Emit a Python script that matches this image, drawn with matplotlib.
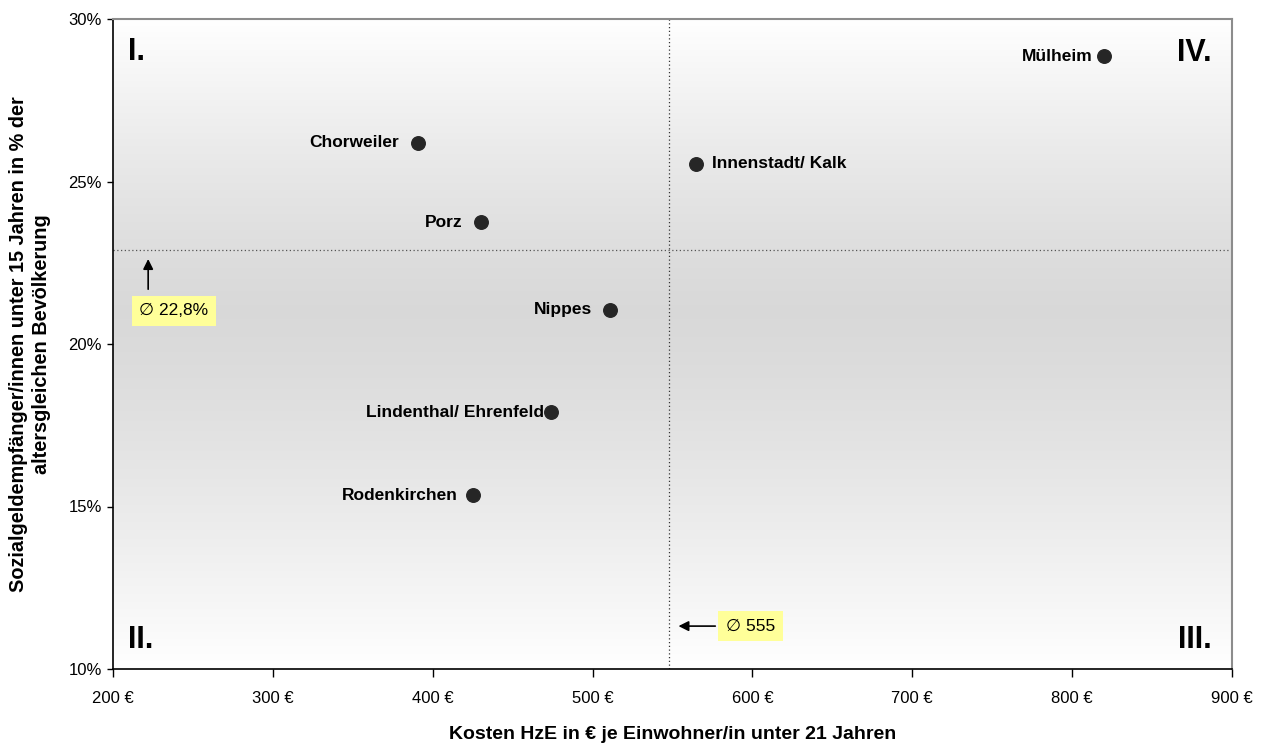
import matplotlib
matplotlib.use("Agg")
import matplotlib.pyplot as plt
import numpy as np
from matplotlib.ticker import FuncFormatter

plt.rcParams['font.family'] = ['Liberation Sans', 'DejaVu Sans']

districts = ["Mülheim", "Chorweiler", "Innenstadt/ Kalk", "Porz", "Nippes",
             "Lindenthal/ Ehrenfeld", "Rodenkirchen"]
kosten = [820, 391, 565, 430, 511, 474, 425]
sozialgeld = [28.85, 26.2, 25.55, 23.75, 21.05, 17.9, 15.35]

mean_x = 548
mean_y = 22.9
mean_x_label = "∅ 555"
mean_y_label = "∅ 22,8%"

xticks = [200, 300, 400, 500, 600, 700, 800, 900]
yticks = [10, 15, 20, 25, 30]

# label placement (offset in points, negative = left of point)
label_offsets = {"Mülheim": -8, "Chorweiler": -14, "Innenstadt/ Kalk": 11,
                 "Porz": -13, "Nippes": -13, "Lindenthal/ Ehrenfeld": -5,
                 "Rodenkirchen": -11}

fig = plt.figure(figsize=(12.67, 7.45), dpi=100)
ax = fig.add_axes([113/1267, 1 - 669/745, (1232-113)/1267, (669-19)/745])
ax.set_xlim(200, 900)
ax.set_ylim(10, 30)

# background gradient: white top, gray middle, white bottom
ys = np.linspace(0, 1, 400)
def shade(t):
    mid = 0.55
    d = np.where(t > mid, (t - mid) / (1 - mid), (mid - t) / mid)
    return 0.85 + 0.15 * d ** 1.3
g = shade(ys)[:, None]
img = np.dstack([g, g, g])
ax.imshow(img, extent=[200, 900, 10, 30], origin='lower', aspect='auto', zorder=0)

ax.axvline(mean_x, color='#333333', linestyle=(0, (1, 2)), linewidth=0.9, zorder=1)
ax.axhline(mean_y, color='#555555', linestyle=(0, (1, 2)), linewidth=0.9, zorder=1)

ax.scatter(kosten, sozialgeld, s=95, color='#262626', zorder=3)
for name, x, y in zip(districts, kosten, sozialgeld):
    off = label_offsets[name]
    ax.annotate(name, (x, y), xytext=(off, 0), textcoords='offset points',
                ha='right' if off < 0 else 'left', va='center',
                fontsize=12.5, fontweight='bold')

# quadrant labels
qkw = dict(fontsize=22, fontweight='bold', transform=ax.transAxes)
ax.text(0.013, 0.95, "I.", ha='left', va='center', **qkw)
ax.text(0.013, 0.045, "II.", ha='left', va='center', **qkw)
ax.text(0.982, 0.045, "III.", ha='right', va='center', **qkw)
ax.text(0.982, 0.948, "IV.", ha='right', va='center', **qkw)

# mean annotations
box = dict(boxstyle='square,pad=0.45', fc='#ffff99', ec='none')
ax.annotate("", xy=(222, mean_y - 0.2), xytext=(222, 21.6),
            arrowprops=dict(arrowstyle='-|>', color='black', lw=1.2, mutation_scale=15))
ax.text(216.5, 21.02, mean_y_label, ha='left', va='center', fontsize=12.5, bbox=box, zorder=4)
ax.annotate("", xy=(mean_x + 4, 11.32), xytext=(578.5, 11.32),
            arrowprops=dict(arrowstyle='-|>', color='black', lw=1.2, mutation_scale=15))
ax.text(583.5, 11.32, mean_x_label, ha='left', va='center', fontsize=12.5, bbox=box, zorder=4)

ax.set_xticks(xticks)
ax.set_yticks(yticks)
ax.xaxis.set_major_formatter(FuncFormatter(lambda v, p: f"{int(v)} €"))
ax.yaxis.set_major_formatter(FuncFormatter(lambda v, p: f"{int(v)}%"))
ax.tick_params(axis='both', direction='out', width=1, labelsize=12, color='black')
ax.tick_params(axis='x', length=6, pad=10)
ax.tick_params(axis='y', length=4, pad=4)

for s in ['left', 'bottom']:
    ax.spines[s].set_color('black')
    ax.spines[s].set_linewidth(1.2)
for s in ['right', 'top']:
    ax.spines[s].set_color('#8c8c8c')
    ax.spines[s].set_linewidth(1.5)

ax.set_xlabel("Kosten HzE in € je Einwohner/in unter 21 Jahren",
              fontsize=14, fontweight='bold', labelpad=14)
fig.text(30/1267, 1 - 344/745,
         "Sozialgeldempfänger/innen unter 15 Jahren in % der\naltersgleichen Bevölkerung",
         rotation=90, ha='center', va='center', multialignment='center',
         fontsize=14.3, fontweight='bold', linespacing=1.25)

fig.savefig("out.png", dpi=100, facecolor='white')
